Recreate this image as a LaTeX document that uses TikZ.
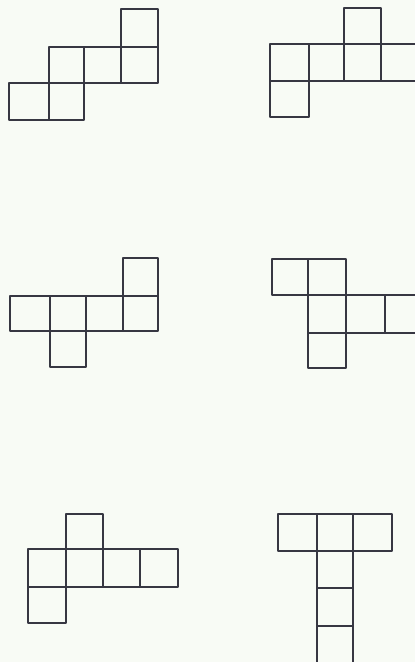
\documentclass[tikz,border=0pt]{standalone}
\usepackage{tikz}
\definecolor{paper}{RGB}{248,251,245}
\definecolor{ink}{RGB}{55,55,66}
\tikzset{
    face/.style={draw=ink, line width=2.1pt, line join=round},
}
\begin{document}
\begin{tikzpicture}[x=0.5mm, y=-0.5mm]
        % Background
        \fill[paper] (0,0) rectangle (415,662);
        \useasboundingbox (0,0) rectangle (415,662);
        \clip (0,0) rectangle (415,662);

        % Net 1
        \foreach \xa/\ya/\xb/\yb in {121/9/158/47, 49/47/84/83, 84/47/121/83,
            121/47/158/83, 9/83/49/120, 49/83/84/120} {
            \draw[face] (\xa,\ya) rectangle (\xb,\yb);
        }

        % Net 2
        \foreach \xa/\ya/\xb/\yb in {344/8/381/44, 270/44/309/81, 309/44/344/81,
            344/44/381/81, 381/44/420/81, 270/81/309/117} {
            \draw[face] (\xa,\ya) rectangle (\xb,\yb);
        }

        % Net 3
        \foreach \xa/\ya/\xb/\yb in {123/258/158/296, 10/296/50/331, 50/296/86/331,
            86/296/123/331, 123/296/158/331, 50/331/86/367} {
            \draw[face] (\xa,\ya) rectangle (\xb,\yb);
        }

        % Net 4
        \foreach \xa/\ya/\xb/\yb in {272/259/308/295, 308/259/346/295, 308/295/346/333,
            346/295/385/333, 385/295/424/333, 308/333/346/368} {
            \draw[face] (\xa,\ya) rectangle (\xb,\yb);
        }

        % Net 5
        \foreach \xa/\ya/\xb/\yb in {66/514/103/549, 28/549/66/587, 66/549/103/587,
            103/549/140/587, 140/549/178/587, 28/587/66/623} {
            \draw[face] (\xa,\ya) rectangle (\xb,\yb);
        }

        % Net 6
        \foreach \xa/\ya/\xb/\yb in {278/514/317/551, 317/514/353/551, 353/514/392/551,
            317/551/353/588, 317/588/353/626, 317/626/353/663} {
            \draw[face] (\xa,\ya) rectangle (\xb,\yb);
        }
    \end{tikzpicture}
\end{document}
